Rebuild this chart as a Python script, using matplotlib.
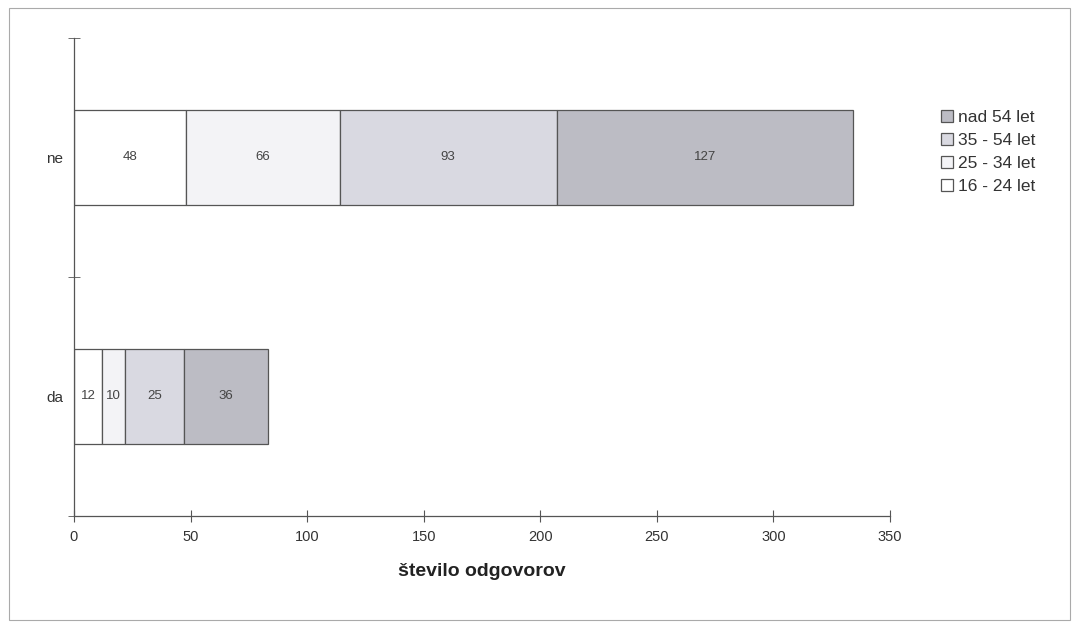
import matplotlib.pyplot as plt
from matplotlib.patches import Rectangle

plt.rcParams['font.family'] = ['Liberation Sans', 'DejaVu Sans']

# answers (y categories) and age groups
answers = ["da", "ne"]
groups = ["16 - 24 let", "25 - 34 let", "35 - 54 let", "nad 54 let"]
v_16_24 = [12, 48]
v_25_34 = [10, 66]
v_35_54 = [25, 93]
v_nad54 = [36, 127]
values = [v_16_24, v_25_34, v_35_54, v_nad54]
colors = ["#ffffff", "#f3f3f6", "#d9d9e1", "#bcbcc4"]

fig = plt.figure(figsize=(10.74, 6.29), dpi=100)
ax = fig.add_axes([0.0689, 0.1797, 0.7598, 0.7599])

# stacked horizontal bars
left = [0, 0]
handles = []
for vals, col, name in zip(values, colors, groups):
    bars = ax.barh(answers, vals, left=left, height=0.4, color=col,
                   edgecolor="#555555", linewidth=0.9, label=name)
    handles.append(bars)
    for b, v in zip(bars, vals):
        ax.text(b.get_x() + b.get_width() / 2, b.get_y() + b.get_height() / 2,
                str(v), ha="center", va="center", fontsize=9.5, color="#444444")
    left = [l + v for l, v in zip(left, vals)]

ax.set_xlim(0, 350)
ax.set_ylim(-0.5, 1.5)
ax.set_xticks(range(0, 351, 50))
ax.set_yticks([0, 1])
ax.set_yticks([-0.5, 0.5, 1.5], minor=True)
ax.tick_params(axis="y", which="major", length=0, pad=8, labelsize=11, colors="#333333")
ax.tick_params(axis="y", which="minor", length=8, direction="inout", color="#555555")
ax.tick_params(axis="x", length=8, direction="inout", labelsize=10.5, colors="#333333",
               pad=6, color="#555555")
for s in ["top", "right"]:
    ax.spines[s].set_visible(False)
for s in ["left", "bottom"]:
    ax.spines[s].set_color("#555555")
    ax.spines[s].set_linewidth(0.9)

ax.set_xlabel("število odgovorov", fontsize=14, fontweight="bold", color="#222222", labelpad=14)

# legend reversed (nad 54 let on top)
leg = ax.legend(handles[::-1], groups[::-1], loc="upper left", bbox_to_anchor=(1.062, 0.85),
                frameon=False, fontsize=12.5, handlelength=0.7, handleheight=0.7,
                handletextpad=0.3, labelspacing=0.45, borderaxespad=0, borderpad=0)
for t in leg.get_texts():
    t.set_color("#333333")

# thin frame around the whole picture
fig.patches.append(Rectangle((0.008, 0.015), 0.988, 0.972, transform=fig.transFigure,
                             fill=False, edgecolor="#aaaaaa", linewidth=0.8))

fig.savefig("out.png", dpi=100)
